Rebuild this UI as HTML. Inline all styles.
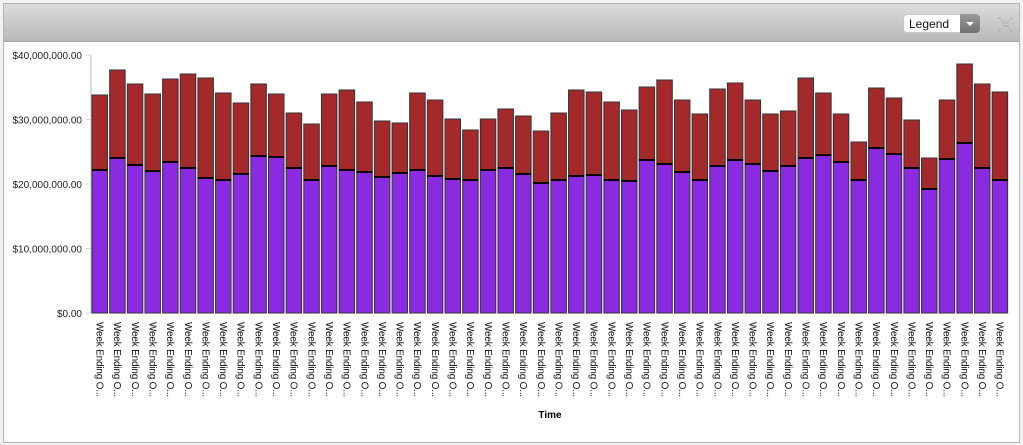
<!DOCTYPE html>
<html><head><meta charset="utf-8"><style>
body{margin:0;background:#fff;font-family:"Liberation Sans",sans-serif;}
#w{position:relative;width:1023px;height:445px;overflow:hidden;background:#f2f2f2}
#box{position:absolute;left:3px;top:3px;width:1015px;height:438px;border:1px solid #b5b5b5;background:#fff}
#hdr{position:absolute;left:0;top:0;width:1015px;height:37px;background:linear-gradient(#dcdcdc,#b9b9b9);border-bottom:1px solid #a8a8a8}
#dd{position:absolute;left:899px;top:10px;width:77px;height:19px;background:#fff;border:1px solid #c8c8c8;border-radius:4px;font-size:12px;line-height:19px;box-sizing:border-box;padding-left:5px;color:#111}
#dd b{position:absolute;right:-1px;top:-1px;width:20px;height:19px;background:linear-gradient(#9a9a9a,#707070);border-radius:0 4px 4px 0}
#dd b:after{content:"";position:absolute;left:6px;top:8px;border:4px solid transparent;border-top-color:#fff;border-bottom:0}
svg{position:absolute;left:0;top:0}
</style></head><body><div id="w"><div id="box"><div id="hdr"><div id="dd">Legend<b></b></div>
<div style="position:absolute;left:994px;top:12px;color:#aaa;font-size:9px;line-height:8px">⤡⤢<br>⤢⤡</div></div></div>
<svg width="1023" height="445" font-family="Liberation Sans, sans-serif">
<line x1="91" y1="55" x2="91" y2="313" stroke="#bbb"/>
<g stroke="#cfd8e6"><line x1="86" y1="55" x2="91" y2="55"/><line x1="86" y1="119.5" x2="91" y2="119.5"/><line x1="86" y1="184" x2="91" y2="184"/><line x1="86" y1="248.5" x2="91" y2="248.5"/><line x1="86" y1="313" x2="91" y2="313"/></g>
<g font-size="10" text-anchor="end" fill="#222">
<text x="82" y="59">$40,000,000.00</text><text x="82" y="123.5">$30,000,000.00</text><text x="82" y="188">$20,000,000.00</text><text x="82" y="252.5">$10,000,000.00</text><text x="82" y="317">$0.00</text></g>
<g id="bars"></g>
<g id="labs" font-size="10" letter-spacing="-0.2" fill="#111"></g>
<text x="550" y="418" font-size="10" font-weight="bold" text-anchor="middle">Time</text>
</svg></div>
<script>
var R=[95,70,84,94,79,74,78,93,103,84,94,113,124,94,90,102,121,123,93,100,119,130,119,109,116,131,113,90,92,102,110,87,80,100,114,89,83,100,114,111,78,93,114,142,88,98,120,158,100,64,84,92];
var P=[170,158,165,171,162,168,178,180,174,156,157,168,180,166,170,172,177,173,170,176,179,180,170,168,174,183,180,176,175,180,181,160,164,172,180,166,160,164,171,166,158,155,162,180,148,154,168,189,159,143,168,180];
var b='';for(var i=0;i<52;i++){var x=92+i*17.65;
b+='<rect x="'+x+'" y="'+R[i]+'" width="15.5" height="'+(P[i]-R[i])+'" fill="#a4292a" stroke="#333" stroke-width="1"/>';
b+='<rect x="'+x+'" y="'+P[i]+'" width="15.5" height="'+(313-P[i])+'" fill="#8a2be2" stroke="#333" stroke-width="1"/>';
b+='<line x1="'+x+'" x2="'+(x+15.5)+'" y1="'+P[i]+'" y2="'+P[i]+'" stroke="#000" stroke-width="2"/>';}
document.getElementById('bars').innerHTML=b;
</script>
<script>
var l='';for(var i=0;i<52;i++){var cx=92+i*17.65+4.5;l+='<text transform="translate('+cx+',322) rotate(90)">Week Ending O...</text>';}
document.getElementById('labs').innerHTML=l;
</script>
</body></html>
